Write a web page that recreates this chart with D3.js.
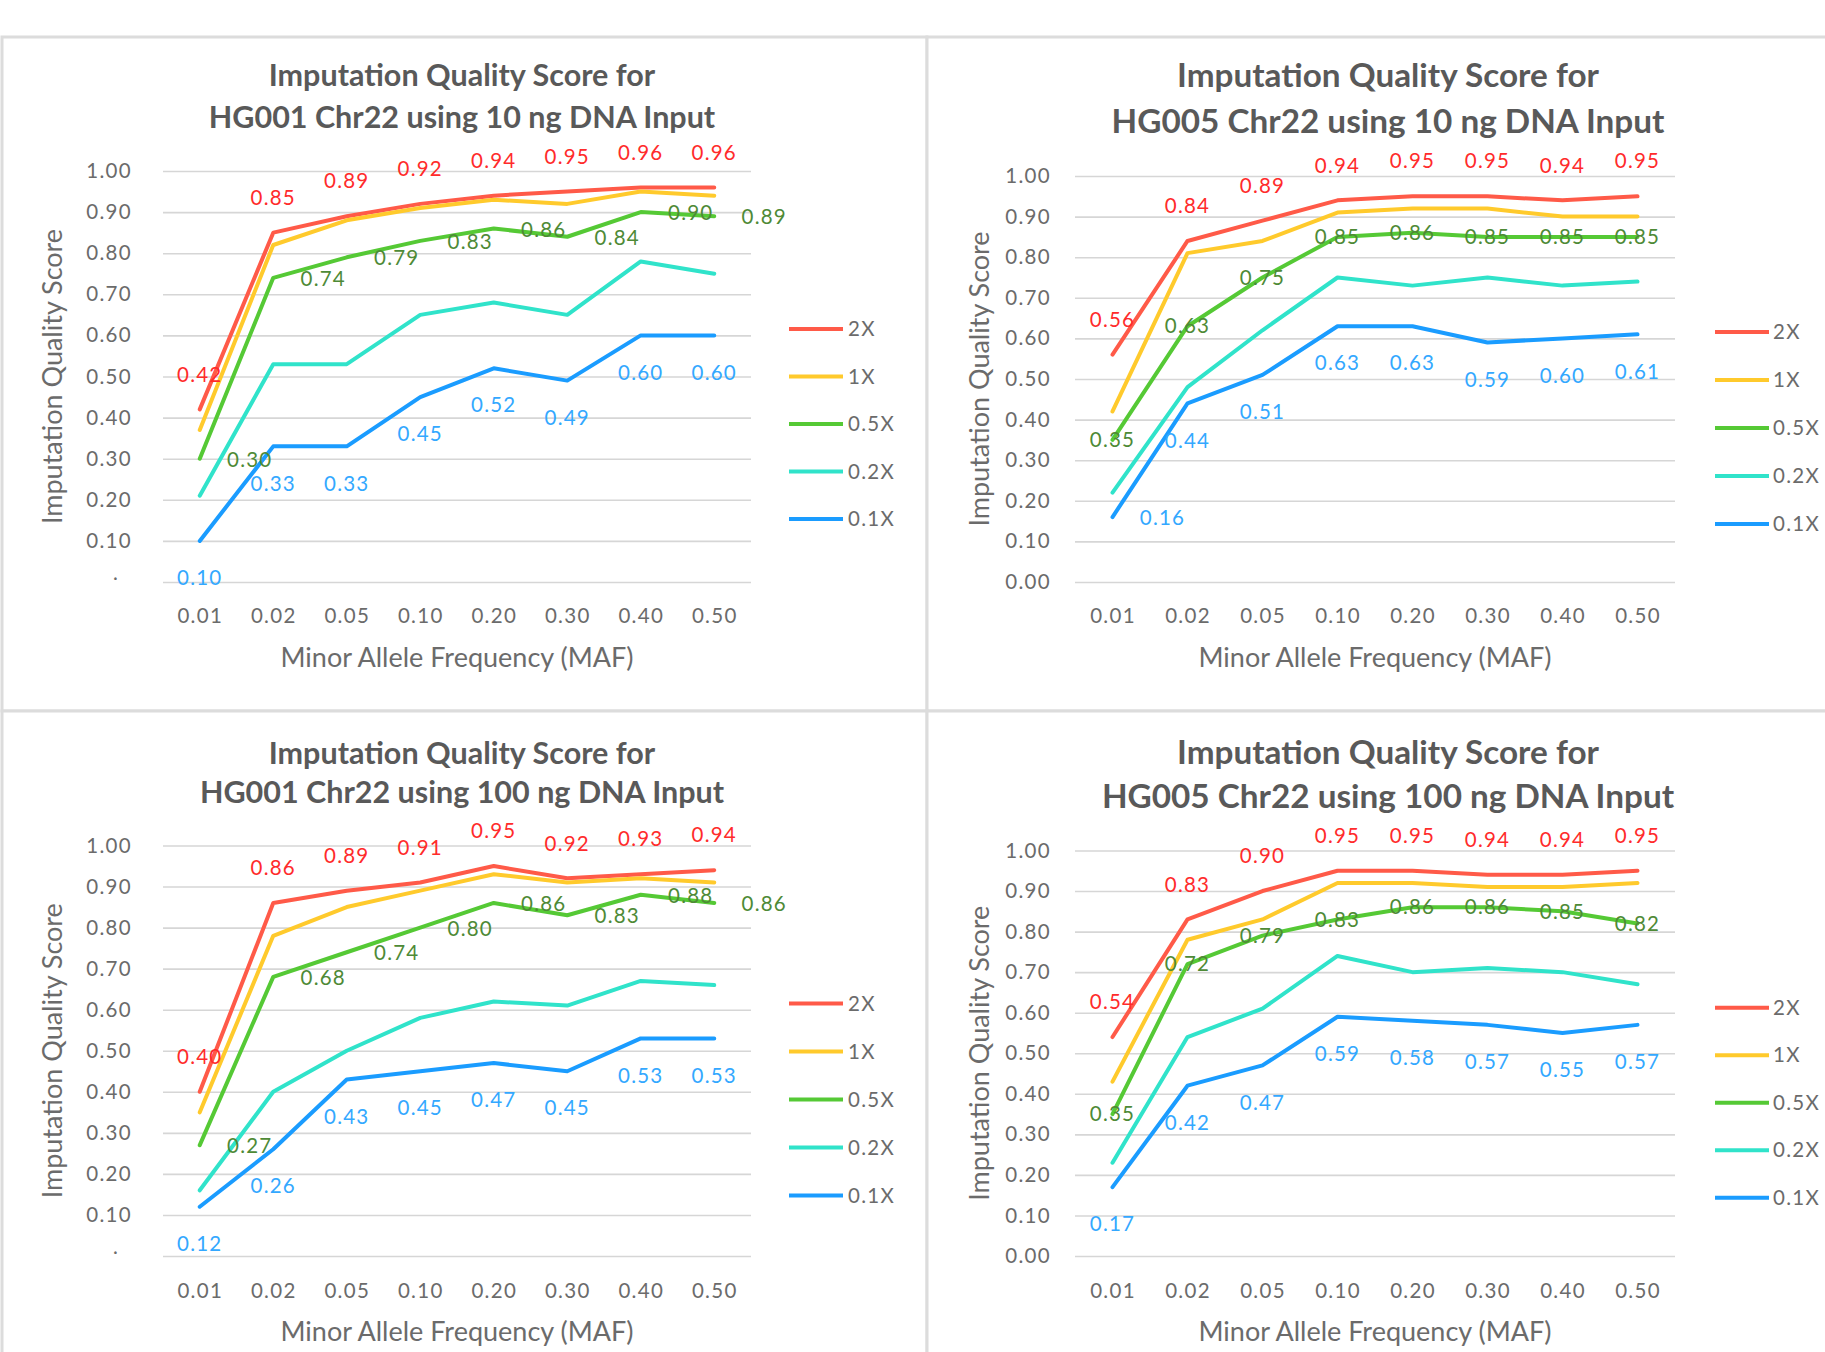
<!DOCTYPE html>
<html><head><meta charset="utf-8">
<script src="https://cdn.jsdelivr.net/npm/d3@7"></script>
<style>
html,body{margin:0;padding:0;background:#fff;}
svg{display:block;font-family:Lato,"Open Sans",sans-serif;}
</style></head><body>
<svg id="chart" width="1825" height="1352"></svg>
<script>
// ---------- data ----------
const categories = ["0.01","0.02","0.05","0.10","0.20","0.30","0.40","0.50"];
const seriesNames = ["2X","1X","0.5X","0.2X","0.1X"];
const yTickValues = [0,0.1,0.2,0.3,0.4,0.5,0.6,0.7,0.8,0.9,1.0];

const titleHG001_10 = ["Imputation Quality Score for","HG001 Chr22 using 10 ng DNA Input"];
const titleHG005_10 = ["Imputation Quality Score for","HG005 Chr22 using 10 ng DNA Input"];
const titleHG001_100 = ["Imputation Quality Score for","HG001 Chr22 using 100 ng DNA Input"];
const titleHG005_100 = ["Imputation Quality Score for","HG005 Chr22 using 100 ng DNA Input"];
const xAxisTitle = "Minor Allele Frequency (MAF)";
const yAxisTitle = "Imputation Quality Score";

// HG001, 10 ng
const hg001_10_2X  = [0.42,0.85,0.89,0.92,0.94,0.95,0.96,0.96];
const hg001_10_1X  = [0.37,0.82,0.88,0.91,0.93,0.92,0.95,0.94];
const hg001_10_05X = [0.30,0.74,0.79,0.83,0.86,0.84,0.90,0.89];
const hg001_10_02X = [0.21,0.53,0.53,0.65,0.68,0.65,0.78,0.75];
const hg001_10_01X = [0.10,0.33,0.33,0.45,0.52,0.49,0.60,0.60];
// HG005, 10 ng
const hg005_10_2X  = [0.56,0.84,0.89,0.94,0.95,0.95,0.94,0.95];
const hg005_10_1X  = [0.42,0.81,0.84,0.91,0.92,0.92,0.90,0.90];
const hg005_10_05X = [0.35,0.63,0.75,0.85,0.86,0.85,0.85,0.85];
const hg005_10_02X = [0.22,0.48,0.62,0.75,0.73,0.75,0.73,0.74];
const hg005_10_01X = [0.16,0.44,0.51,0.63,0.63,0.59,0.60,0.61];
// HG001, 100 ng
const hg001_100_2X  = [0.40,0.86,0.89,0.91,0.95,0.92,0.93,0.94];
const hg001_100_1X  = [0.35,0.78,0.85,0.89,0.93,0.91,0.92,0.91];
const hg001_100_05X = [0.27,0.68,0.74,0.80,0.86,0.83,0.88,0.86];
const hg001_100_02X = [0.16,0.40,0.50,0.58,0.62,0.61,0.67,0.66];
const hg001_100_01X = [0.12,0.26,0.43,0.45,0.47,0.45,0.53,0.53];
// HG005, 100 ng
const hg005_100_2X  = [0.54,0.83,0.90,0.95,0.95,0.94,0.94,0.95];
const hg005_100_1X  = [0.43,0.78,0.83,0.92,0.92,0.91,0.91,0.92];
const hg005_100_05X = [0.35,0.72,0.79,0.83,0.86,0.86,0.85,0.82];
const hg005_100_02X = [0.23,0.54,0.61,0.74,0.70,0.71,0.70,0.67];
const hg005_100_01X = [0.17,0.42,0.47,0.59,0.58,0.57,0.55,0.57];

// ---------- styles ----------
const lineColors  = ["#FF5A48","#FFCA2C","#55C935","#30E3CA","#1A9CFF"];
const labelColors = ["#FF2B2B",null,"#4E8A36",null,"#33A8FF"];

const panels = [
  {title:titleHG001_10, series:[hg001_10_2X,hg001_10_1X,hg001_10_05X,hg001_10_02X,hg001_10_01X],
   frame:[2,37,925,674], plot:[163,751,171,582], titleCx:462, titleY:[75.5,117], titleSize:30.5,
   tickRight:132, yTitleX:53, xLabY:616, xTitleY:657.5, leg:[789,843,848], legY0:329, legDy:47.5,
   zeroLabel:".", greenPos:"right", bluePos:"below", blueFirstRight:false},
  {title:titleHG005_10, series:[hg005_10_2X,hg005_10_1X,hg005_10_05X,hg005_10_02X,hg005_10_01X],
   frame:[927,37,920,674], plot:[1075,1675,176,582], titleCx:1388, titleY:[75.5,121], titleSize:33.3,
   tickRight:1051, yTitleX:980, xLabY:616, xTitleY:657.5, leg:[1715,1769,1773], legY0:332, legDy:48,
   zeroLabel:"0.00", greenPos:"center", bluePos:"below", blueFirstRight:true},
  {title:titleHG001_100, series:[hg001_100_2X,hg001_100_1X,hg001_100_05X,hg001_100_02X,hg001_100_01X],
   frame:[2,711,925,700], plot:[163,751,845.5,1256], titleCx:462, titleY:[753,792], titleSize:30.5,
   tickRight:132, yTitleX:53, xLabY:1290.5, xTitleY:1332, leg:[789,843,848], legY0:1003.5, legDy:48,
   zeroLabel:".", greenPos:"right", bluePos:"below", blueFirstRight:false},
  {title:titleHG005_100, series:[hg005_100_2X,hg005_100_1X,hg005_100_05X,hg005_100_02X,hg005_100_01X],
   frame:[927,711,920,700], plot:[1075,1675,850.5,1256], titleCx:1388, titleY:[752,796.5], titleSize:33.3,
   tickRight:1051, yTitleX:980, xLabY:1290.5, xTitleY:1332, leg:[1715,1769,1773], legY0:1007.7, legDy:47.5,
   zeroLabel:"0.00", greenPos:"center", bluePos:"below", blueFirstRight:false}
];

const svg = d3.select("#chart");
svg.append("rect").attr("width",1825).attr("height",1352).attr("fill","#fff");

const textGray = "#6b6b6b";

panels.forEach(p => {
  const g = svg.append("g");
  const [fx,fy,fw,fh] = p.frame;
  g.append("rect").attr("x",fx).attr("y",fy).attr("width",fw).attr("height",fh)
    .attr("fill","#fff").attr("stroke","#dcdcdc").attr("stroke-width",3);

  const [pl,pr,pt,pb] = p.plot;
  const x = d3.scalePoint().domain(categories).range([pl,pr]).padding(0.5);
  const y = d3.scaleLinear().domain([0,1]).range([pb,pt]);

  // y axis with gridlines
  const ya = g.append("g").attr("transform",`translate(${pl},0)`)
    .call(d3.axisLeft(y).tickValues(yTickValues).tickSize(-(pr-pl)).tickPadding(pl-p.tickRight)
      .tickFormat(v => v === 0 ? p.zeroLabel : d3.format(".2f")(v)));
  ya.select(".domain").remove();
  ya.selectAll(".tick line").attr("stroke","#d6d6d6").attr("stroke-width",1.6);
  ya.selectAll(".tick text").attr("fill",textGray).attr("font-size",20.5).attr("letter-spacing",1.3)
    .attr("font-family","Lato");
  if (p.zeroLabel === ".") {
    ya.selectAll(".tick").filter(d => d === 0).select("text")
      .attr("text-anchor","middle").attr("x",116-pl).attr("dy","-0.1em");
  }

  // x axis
  const xa = g.append("g").attr("transform",`translate(0,${p.xLabY})`)
    .call(d3.axisBottom(x).tickSize(0).tickPadding(0));
  xa.select(".domain").remove();
  xa.selectAll(".tick text").attr("fill",textGray).attr("font-size",20.5).attr("letter-spacing",1.3)
    .attr("dy","0.35em").attr("y",0).attr("font-family","Lato");

  // titles
  p.title.forEach((t,i) => {
    g.append("text").attr("x",p.titleCx).attr("y",p.titleY[i]).attr("dy","0.35em")
      .attr("text-anchor","middle").attr("font-size",p.titleSize).attr("font-weight",700)
      .attr("fill","#595959").text(t);
  });
  g.append("text").attr("x",(pl+pr)/2).attr("y",p.xTitleY).attr("dy","0.35em")
    .attr("text-anchor","middle").attr("font-size",27).attr("fill",textGray).text(xAxisTitle);
  g.append("text").attr("transform",`translate(${p.yTitleX},${(pt+pb)/2}) rotate(-90)`)
    .attr("dy","0.35em").attr("text-anchor","middle").attr("font-size",27).attr("fill",textGray)
    .text(yAxisTitle);

  // lines
  const line = d3.line().x((d,i) => x(categories[i])).y(d => y(d));
  p.series.forEach((s,si) => {
    g.append("path").datum(s).attr("d",line).attr("fill","none")
      .attr("stroke",lineColors[si]).attr("stroke-width",4)
      .attr("stroke-linejoin","round").attr("stroke-linecap","round");
  });

  // data labels
  const lab = g.append("g").attr("font-size",20.5).attr("letter-spacing",1.2).attr("text-anchor","middle");
  const addLabels = (si, pos) => {
    p.series[si].forEach((v,i) => {
      let dx = 0, dy = 0, mode = pos;
      if (si === 4 && i === 0 && p.blueFirstRight) mode = "right";
      if (mode === "above") dy = -35;
      else if (mode === "below") dy = 37;
      else if (mode === "right") { dx = 50; dy = 1; }
      lab.append("text").attr("x",x(categories[i])+dx).attr("y",y(v)+dy).attr("dy","0.35em")
        .attr("fill",labelColors[si]).text(d3.format(".2f")(v));
    });
  };
  addLabels(0,"above");
  addLabels(2,p.greenPos);
  addLabels(4,p.bluePos);

  // legend
  const [lx0,lx1,ltx] = p.leg;
  seriesNames.forEach((n,si) => {
    const ly = p.legY0 + si*p.legDy;
    g.append("line").attr("x1",lx0).attr("x2",lx1).attr("y1",ly).attr("y2",ly)
      .attr("stroke",lineColors[si]).attr("stroke-width",4);
    g.append("text").attr("x",ltx).attr("y",ly).attr("dy","0.35em").attr("font-size",20.5)
      .attr("letter-spacing",1.3).attr("fill",textGray).text(n);
  });
});
</script>
</body></html>
